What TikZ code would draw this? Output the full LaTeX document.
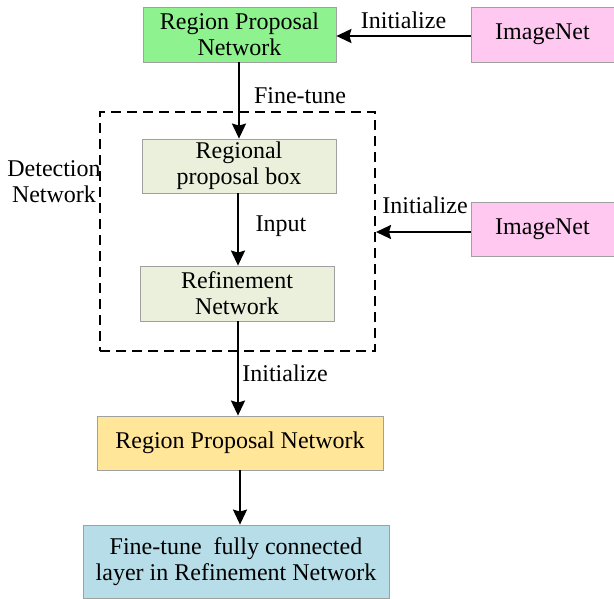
\documentclass[tikz,border=0pt]{standalone}
\usepackage{fontspec}
\setmainfont{Liberation Serif}
\usetikzlibrary{arrows.meta}
\definecolor{cgreen}{HTML}{8EF28E}
\definecolor{cpink}{HTML}{FFC8F0}
\definecolor{cpale}{HTML}{EAF0DC}
\definecolor{cyellow}{HTML}{FFE699}
\definecolor{cblue}{HTML}{B7DEE8}
\definecolor{cborder}{HTML}{A0A0A0}
\begin{document}
\begin{tikzpicture}[x=1pt,y=-1pt,
  font=\fontsize{24}{26}\selectfont,
  box/.style={draw=cborder, line width=0.8pt, align=center, inner sep=0pt},
  conn/.style={line width=2.2pt, -{Stealth[length=15pt,width=14pt,inset=2pt]}},
  lbl/.style={inner sep=0pt}]
\useasboundingbox (0,0) rectangle (614,599);
\node[box, fill=cgreen, minimum width=193pt, minimum height=55pt] (rpn1) at (239.5,34.5) {Region Proposal\\Network};
\node[box, fill=cpink, minimum width=143pt, minimum height=55pt] (img1) at (542.5,34.5) {ImageNet};
\node[box, fill=cpale, minimum width=194pt, minimum height=54pt] (rpb) at (239,166) {Regional\\proposal box};
\node[box, fill=cpale, minimum width=194pt, minimum height=55pt] (ref) at (237,293.5) {Refinement\\Network};
\node[box, fill=cpink, minimum width=143pt, minimum height=54pt] (img2) at (542.5,229) {ImageNet};
\node[box, fill=cyellow, minimum width=286pt, minimum height=54pt] (rpn2) at (240,443) {Region Proposal Network};
\node[box, fill=cblue, minimum width=306pt, minimum height=73pt] (ft) at (236,561.5) {Fine-tune\ \ fully connected\\layer in Refinement Network};
\node[draw, dashed, dash pattern=on 10pt off 6pt, line width=2pt, minimum width=275pt, minimum height=239pt, inner sep=0pt] (det) at (237.5,231.5) {};
\node[lbl, align=center] (detl) at (54,182) {Detection\\Network};

\draw[conn] (img1.west |- 0,36) -- (rpn1.east |- 0,36) node[lbl, midway, above=6pt] (l1) {Initialize};
\draw[conn] (rpn1.south -| 239,0) -- (rpb.north -| 239,0);
\node[lbl] (l2) at (300,96) {Fine-tune};
\draw[conn] (rpb.south -| 238,0) -- (ref.north -| 238,0);
\node[lbl] (l3) at (281,226) {Input};
\draw[conn] (img2.west |- 0,232) -- (det.east |- 0,232);
\node[lbl] (l4) at (425,205) {Initialize};
\draw[conn] (ref.south -| 238,0) -- (rpn2.north -| 238,0);
\node[lbl] (l5) at (285,373) {Initialize};
\draw[conn] (rpn2.south -| 240,0) -- (ft.north -| 240,0);
\end{tikzpicture}
\end{document}
